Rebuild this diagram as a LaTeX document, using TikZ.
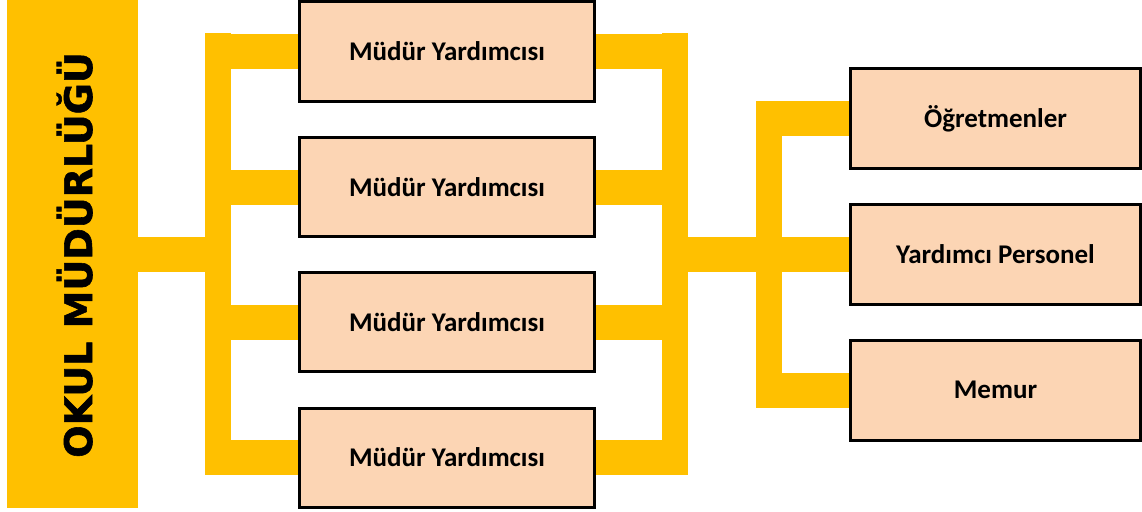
\documentclass[tikz,border=0pt]{standalone}
\usepackage{fontspec}
\setmainfont{Carlito}
\newfontfamily\headfont{DejaVu Sans}[BoldFeatures={FakeBold=1.5}]
\usetikzlibrary{backgrounds}
\definecolor{baryellow}{HTML}{FFC000}
\definecolor{peach}{HTML}{FCD5B4}
\tikzset{
  mainbox/.style={fill=baryellow, draw=none, inner sep=0pt, minimum width=131pt, minimum height=508pt},
  midbox/.style={fill=peach, draw=black, line width=3pt, minimum width=295pt, minimum height=99pt, inner sep=0pt, font=\bfseries\fontsize{27}{30}\selectfont},
  rightbox/.style={fill=peach, draw=black, line width=3pt, minimum width=290pt, minimum height=100pt, inner sep=0pt, font=\bfseries\fontsize{27}{30}\selectfont},
  hbar/.style={draw=baryellow, line width=35pt},
  vbar/.style={draw=baryellow, line width=26pt},
}
\begin{document}
\begin{tikzpicture}[x=1pt,y=-1pt]
\useasboundingbox (0,0) rectangle (1142,511);
% main box
\node[mainbox] (main) at (72.5,254) {};
\node[rotate=90, anchor=base, font=\headfont\bfseries\fontsize{38}{40}\selectfont] (maintext) at (92,255) {OKUL MÜDÜRLÜĞÜ};
% middle boxes
\node[midbox] (m1) at (447,51.5) {Müdür Yardımcısı};
\node[midbox] (m2) at (447,187) {Müdür Yardımcısı};
\node[midbox] (m3) at (447,322) {Müdür Yardımcısı};
\node[midbox] (m4) at (447,457.5) {Müdür Yardımcısı};
% right boxes
\node[rightbox] (r1) at (995.5,118.5) {Öğretmenler};
\node[rightbox] (r2) at (995.5,254) {Yardımcı Personel};
\node[rightbox] (r3) at (995.5,390) {Memur};
% bar coordinates
\coordinate (lt) at (218,33);
\coordinate (lb) at (218,475);
\coordinate (mt) at (675,33);
\coordinate (mb) at (675,475);
\coordinate (rt) at (769,101);
\coordinate (rb) at (769,407);
\begin{scope}[on background layer]
  % left tree
  \draw[vbar] (lt) -- (lb);
  \draw[hbar] (main.east) -- (231,254);
  \foreach \n in {m1,m2,m3,m4}{
    \draw[hbar] (\n.west) -- (205,0 |- \n.west);
    \draw[hbar] (\n.east) -- (688,0 |- \n.east);
  }
  % middle right tree
  \draw[vbar] (mt) -- (mb);
  \draw[hbar] (662,254) -- (782,254);
  \draw[vbar] (rt) -- (rb);
  \foreach \n in {r1,r2,r3}{
    \draw[hbar] (\n.west) -- (756,0 |- \n.west);
  }
\end{scope}
\end{tikzpicture}
\end{document}
